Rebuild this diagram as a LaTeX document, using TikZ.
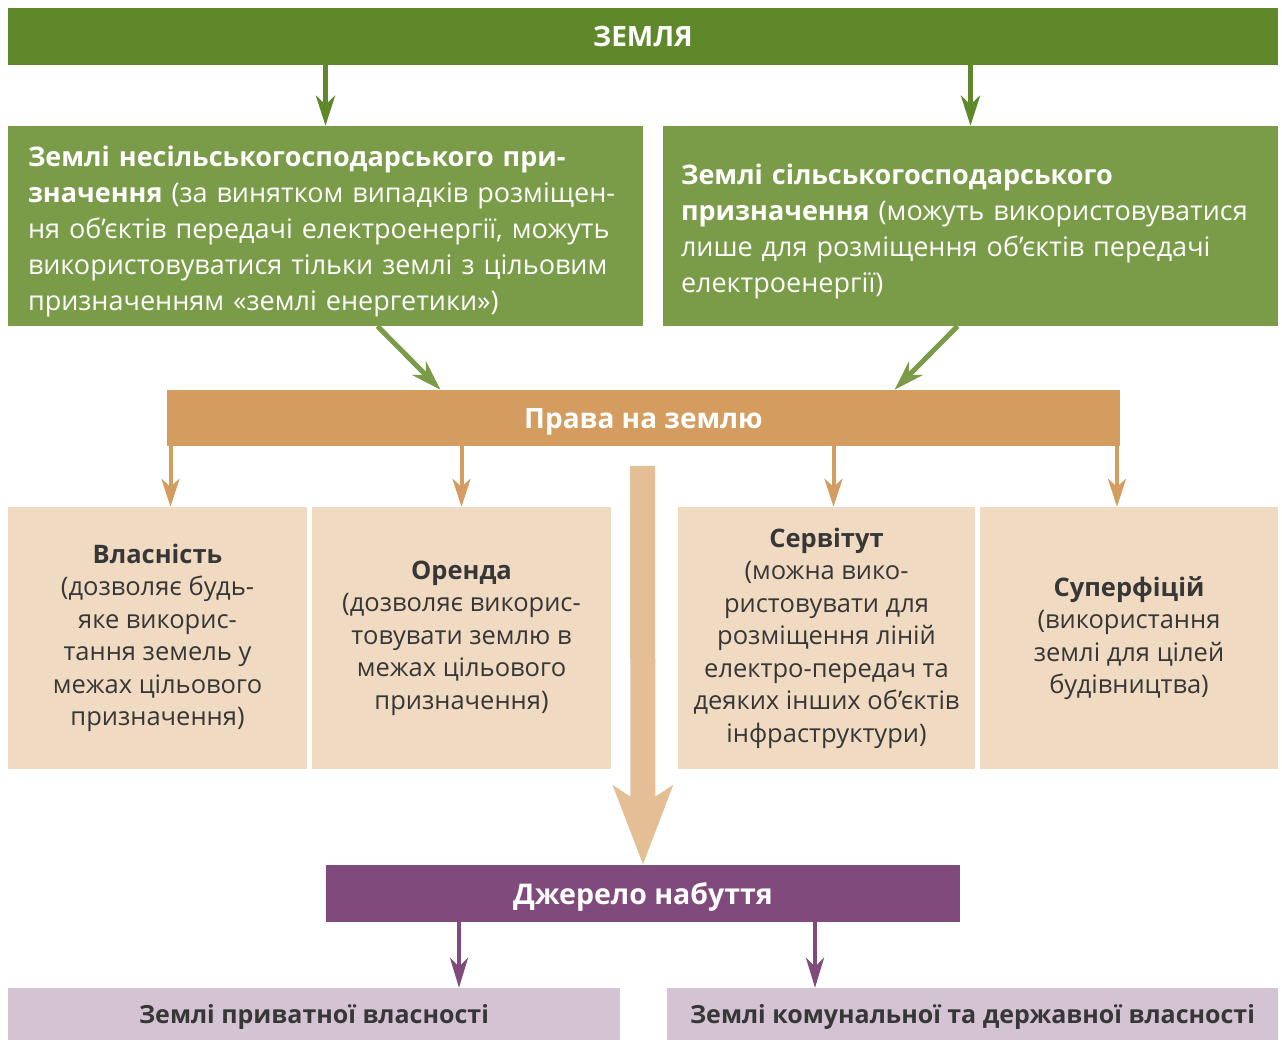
\documentclass[tikz,border=0pt]{standalone}
\usepackage{fontspec}
\setmainfont{Open Sans}
\usepackage{tikz}
\usetikzlibrary{arrows.meta,positioning}
\definecolor{zgreen}{RGB}{94,136,41}
\definecolor{lgreen}{RGB}{122,156,72}
\definecolor{ochre}{RGB}{212,156,94}
\definecolor{sand}{RGB}{240,218,193}
\definecolor{bigarr}{RGB}{228,190,148}
\definecolor{plum}{RGB}{128,74,124}
\definecolor{lilac}{RGB}{211,195,211}
\definecolor{ink}{RGB}{55,55,55}

\begin{document}
\begin{tikzpicture}[x=1pt,y=-1pt,
  bar/.style={inner sep=0pt,text=white,text depth=0pt,font=\fontsize{28}{32}\selectfont\bfseries},
  greenbox/.style={fill=lgreen,text=white,align=left,inner xsep=20pt,inner ysep=0pt,
    text height=32pt,minimum height=200pt,font=\fontsize{27}{36}\selectfont},
  sandbox/.style={fill=sand,text=ink,align=center,inner sep=0pt,minimum width=299pt,
    minimum height=262pt,font=\fontsize{25.5}{32.5}\selectfont},
  lilacbox/.style={fill=lilac,text=ink,inner sep=0pt,text depth=0pt,minimum width=612pt,
    minimum height=52pt,font=\fontsize{25}{30}\selectfont\bfseries},
  garr/.style={-{Stealth[length=30pt,width=19pt,inset=9pt]},line width=5pt},
  oarr/.style={-{Stealth[length=28pt,width=18pt,inset=8pt]},line width=4pt,ochre},
  parr/.style={-{Stealth[length=30pt,width=18pt,inset=9pt]},line width=4pt,plum}]
\useasboundingbox (0,0) rectangle (1282,1039);

% top level
\node[bar,fill=zgreen,minimum width=1270pt,minimum height=57pt] (zemlia) at (643,36.5) {ЗЕМЛЯ};
\node[greenbox,text width=595pt] (nonagr) at (325.5,226) {\textbf{Землі несільськогосподарського при-}\\
  \textbf{значення} (за винятком випадків розміщен-\\
  ня об’єктів передачі електроенергії, можуть\\
  використовуватися тільки землі з цільовим\\
  призначенням «землі енергетики»)};
\node[greenbox,text width=579pt,inner xsep=18pt] (agr) at (970.5,226) {\textbf{Землі сільськогосподарського}\\
  \textbf{призначення} (можуть використовуватися\\
  лише для розміщення об’єктів передачі\\
  електроенергії)};
\draw[garr,zgreen] (nonagr.north |- zemlia.south) -- (nonagr.north);
\draw[garr,zgreen] (agr.north |- zemlia.south) -- (agr.north);

% rights
\node[bar,fill=ochre,minimum width=953pt,minimum height=56pt] (rights) at (643.5,418) {Права на землю};
\draw[garr,lgreen] ([xshift=52pt]nonagr.south) -- ([xshift=-203pt]rights.north);
\draw[garr,lgreen] ([xshift=-13pt]agr.south) -- ([xshift=251pt]rights.north);

\node[sandbox] (own) at (157.5,638) {\textbf{Власність}\\(дозволяє будь-\\яке викорис-\\тання земель у\\межах цільового\\призначення)};
\node[sandbox] (lease) at (461.5,638) {\textbf{Оренда}\\(дозволяє викорис-\\товувати землю в\\межах цільового\\призначення)};
\node[sandbox,minimum width=297pt] (servit) at (826.5,638) {\textbf{Сервітут}\\(можна вико-\\ристовувати для\\розміщення ліній\\електро-передач та\\деяких інших об’єктів\\інфраструктури)};
\node[sandbox,minimum width=298pt] (superf) at (1129,638) {\textbf{Суперфіцій}\\(використання\\землі для цілей\\будівництва)};
\draw[oarr] ([xshift=13pt]own.north |- rights.south) -- ([xshift=13pt]own.north);
\draw[oarr] (lease.north |- rights.south) -- (lease.north);
\draw[oarr] ([xshift=7pt]servit.north |- rights.south) -- ([xshift=7pt]servit.north);
\draw[oarr] ([xshift=-12pt]superf.north |- rights.south) -- ([xshift=-12pt]superf.north);

% acquisition
\node[bar,fill=plum,minimum width=634pt,minimum height=57pt,font=\fontsize{28.5}{32}\selectfont\bfseries] (source) at (643,893.5) {Джерело набуття};
\coordinate (flow) at (642.5,466);
\draw[bigarr,line width=25pt,-{Stealth[length=78pt,width=58pt,inset=18pt]}] (flow) -- (source.north);

\node[lilacbox] (private) at (314,1014) {Землі приватної власності};
\node[lilacbox,minimum width=611pt] (public) at (972.5,1014) {Землі комунальної та державної власності};
\draw[parr] ([xshift=-184pt]source.south) -- ([xshift=145pt]private.north);
\draw[parr] ([xshift=172pt]source.south) -- ([xshift=-157.5pt]public.north);
\end{tikzpicture}
\end{document}
